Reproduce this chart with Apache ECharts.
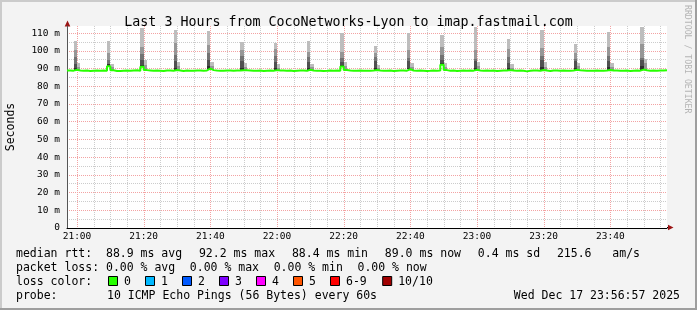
<!DOCTYPE html>
<html><head><meta charset="utf-8">
<script src="https://cdn.jsdelivr.net/npm/echarts@6/dist/echarts.min.js"></script>
<style>html,body{margin:0;padding:0;background:#f3f3f3}#c{width:697px;height:310px}</style>
</head><body><div id="c"></div>
<script>
// ---------------- data ----------------
const titleText = 'Last 3 Hours from CocoNetworks-Lyon to imap.fastmail.com';
const yAxisName = 'Seconds';
const startTime = '20:57';            // first minute column
const majorTicks = ['21:00','21:20','21:40','22:00','22:20','22:40','23:00','23:20','23:40'];
const yTicks = [0,10,20,30,40,50,60,70,80,90,100,110];
const yMax = 114;

// median rtt per minute (ms), 180 columns
const median = [
 88.9,88.8,89.3,88.9,88.7,88.9,88.6,88.8,88.9,88.7,
 88.9,88.8,91.3,89.0,88.6,88.6,88.8,88.9,88.7,88.9,
 89.0,88.8,91.0,89.1,88.9,88.7,88.9,88.8,88.6,88.9,
 88.9,88.8,89.2,88.9,88.6,88.9,88.8,88.7,88.9,88.9,
 88.8,88.9,89.9,89.1,88.9,88.8,88.8,88.9,88.9,88.8,
 88.9,88.9,89.0,89.0,88.9,88.7,88.8,88.9,88.6,88.8,
 88.9,88.8,89.1,88.9,88.9,88.7,88.9,88.6,88.8,88.9,
 88.9,88.7,89.3,88.9,88.8,88.8,88.6,88.7,88.9,88.8,
 88.9,88.8,91.1,89.2,88.9,88.8,88.7,88.9,88.8,88.7,
 88.8,88.9,89.2,88.9,88.8,88.8,88.9,88.6,88.8,88.9,
 88.9,88.8,89.6,88.9,88.7,88.9,88.8,88.6,88.7,88.9,
 88.8,88.9,92.2,89.1,88.8,88.9,88.6,88.8,88.9,88.8,
 88.9,88.8,89.3,88.9,88.7,88.9,88.8,88.9,88.6,88.8,
 88.9,88.9,89.1,88.9,88.7,88.9,88.8,88.4,88.8,88.9,
 88.9,88.7,89.2,88.9,88.6,88.9,88.9,88.8,88.9,88.7,
 88.8,88.9,89.3,89.0,88.9,88.8,88.8,88.7,88.9,88.8,
 88.8,88.9,89.2,88.9,88.9,88.7,88.8,88.9,88.6,88.8,
 88.9,88.8,89.4,89.0,88.8,88.9,88.8,88.9,88.9,89.0
];

// smoke (ping spread) at the periodic spikes: column index and upper pings
const spikeColumns = [2,12,22,32,42,52,62,72,82,92,102,112,122,132,142,152,162,172];
const spikeP10 = [105.6,105.6,112.6,111.7,111.3,105.1,104.5,105.6,110.2,102.6,110.2,108.9,113.2,106.4,112.0,103.8,110.8,113.2];
const spikeP9  = [100.5, 98.5,102.3,104.2,103.2,100.4,100.8, 99.6, 99.6, 98.5,100.4,102.0,100.4,101.0,101.5, 98.5,102.3,104.0];
const spikeP8  = [ 96.6, 95.0, 98.0, 97.6, 98.5, 97.0, 96.8, 96.5, 96.0, 96.5, 96.0, 97.5, 95.4, 96.5, 97.0, 95.4, 97.0, 96.0];
const spikeP7  = [ 92.8, 92.5, 94.8, 94.0, 94.8, 94.0, 93.5, 93.8, 93.8, 94.0, 94.0, 95.0, 94.0, 93.2, 94.8, 94.0, 94.5, 95.0];
const spikeP6  = [ 90.5, 92.5, 92.0, 90.5, 91.5, 90.5, 90.5, 90.5, 92.0, 90.2, 90.5, 93.2, 90.5, 90.5, 91.0, 90.5, 91.0, 91.5];
// the column right after each spike
const afterP10 = [92.9,92.5,94.8,93.8,93.8,93.2,92.5,92.8,93.8,91.9,93.2,93.0,93.8,92.6,93.5,93.2,93.3,95.1];
const afterP9  = [91.0,90.8,92.0,91.5,91.5,91.0,90.5,90.8,91.5,90.3,91.0,91.0,91.5,90.5,91.0,91.2,91.0,93.0];

const smokeColors = ['#2e2e2e','#505050','#737373','#969696','#bdbdbd'];
const lossLabels = ['0','1','2','3','4','5','6-9','10/10'];
const lossColors = ['#26ff00','#00b8ff','#0059ff','#7e00ff','#ff00ff','#ff5500','#ff0000','#a10000'];

const legendRow1 = ['median rtt:  ','88.9 ms avg','92.2 ms max','88.4 ms min','89.0 ms now','0.4 ms sd','215.6   am/s'];
const legendRow2 = ['packet loss: ','0.00 % avg','0.00 % max','0.00 % min','0.00 % now'];
const legendRow3 = 'loss color:';
const legendRow4a = 'probe:';
const legendRow4b = '10 ICMP Echo Pings (56 Bytes) every 60s';
const legendDate = 'Wed Dec 17 23:56:57 2025';
const sideText = 'RRDTOOL / TOBI OETIKER';

// ---------------- build ----------------
const FONT = 'DejaVu Sans Mono';
const CH = 6.92;   // monospace advance at 11.5px
const MAJOR_COL = '#f3a3a3', MINOR_COL = '#cccccc';
const n = median.length;
function toMin(s){const p=s.split(':');return (+p[0])*60+(+p[1]);}
function hhmm(m){const h=Math.floor(m/60)%24, mm=m%60;return String(h).padStart(2,'0')+':'+String(mm).padStart(2,'0');}
const start = toMin(startTime);
const pointLabels = Array.from({length:n+1},(_,i)=>hhmm(start+i));
const colLabels = pointLabels.slice(0,n);
const majorIdx = majorTicks.map(t=>pointLabels.indexOf(t));
const minorIdx = pointLabels.map((t,i)=>i).filter(i=>toMin(pointLabels[i])%5===0 && majorIdx.indexOf(i)<0);

// smoke rows: [column, low, p6, p7, p8, p9, p10]
const smokeRows = [];
spikeColumns.forEach((c,k)=>{
  smokeRows.push([c, median[c], Math.max(median[c],spikeP6[k]), spikeP7[k], spikeP8[k], spikeP9[k], spikeP10[k]]);
  const a = c+1;
  smokeRows.push([a, median[a], median[a], median[a], median[a], afterP9[k], afterP10[k]]);
});
const lineData = median.concat([median[n-1]]);

function gridLineItem(color){
  return function(params, api){
    const cs = params.coordSys;
    const x = Math.round(api.coord([api.value(0), 0])[0]) + 0.5;
    return {type:'line', shape:{x1:x, y1:cs.y, x2:x, y2:cs.y+cs.height},
      style:{stroke:color, lineWidth:1, lineDash:[1,1]}};
  };
}
function smokeItem(params, api){
  const i = api.value(0);
  const c = api.coord([i, 0]);
  const w = api.size([1, 0])[0];
  const xl = Math.round(c[0]-w/2), xr = Math.round(c[0]+w/2);
  const children = [];
  for (let b=0;b<5;b++){
    const lo = Math.round(api.coord([i, api.value(b+1)])[1]);
    const hi = Math.round(api.coord([i, api.value(b+2)])[1]);
    if (lo-hi>0) children.push({type:'rect', shape:{x:xl, y:hi, width:xr-xl, height:lo-hi}, style:{fill:smokeColors[b]}});
  }
  return {type:'group', children:children};
}

const series = [
  {type:'custom', xAxisIndex:0, yAxisIndex:0, data:minorIdx.map(i=>[i,0]), renderItem:gridLineItem(MINOR_COL), silent:true, z:1},
  {type:'custom', xAxisIndex:0, yAxisIndex:0, data:majorIdx.map(i=>[i,0]), renderItem:gridLineItem(MAJOR_COL), silent:true, z:1},
  {type:'custom', xAxisIndex:1, yAxisIndex:0, data:smokeRows, renderItem:smokeItem, silent:true, z:3},
  {type:'line', xAxisIndex:0, yAxisIndex:0, data:lineData, step:'end', symbol:'none',
   lineStyle:{color:lossColors[0], width:2}, silent:true, z:5}
];

const chart = echarts.init(document.getElementById('c'), null, {renderer:'canvas'});
const option = {
  animation:false,
  backgroundColor:'#f3f3f3',
  title:{text:titleText, left:'center', top:11,
    textStyle:{fontFamily:FONT, fontSize:13.3, fontWeight:'normal', color:'#000'}},
  grid:{left:67, top:26, width:600, height:202, show:true, backgroundColor:'#fff', borderWidth:0,
        containLabel:false, outerBoundsMode:'none'},
  xAxis:[
    {type:'category', boundaryGap:false, data:pointLabels,
     axisLine:{show:true, lineStyle:{color:'#000', width:1}}, axisTick:{show:false},
     axisLabel:{interval:(i,v)=>majorTicks.indexOf(v)>=0, fontFamily:FONT, fontSize:9.5, color:'#000', margin:4},
     splitLine:{show:false}},
    {type:'category', boundaryGap:true, data:colLabels, show:false}
  ],
  yAxis:[{
    type:'value', min:0, max:yMax, interval:5,
    name:yAxisName, nameLocation:'middle', nameGap:50, nameRotate:90,
    nameTextStyle:{fontFamily:FONT, fontSize:11.5, color:'#000'},
    axisLine:{show:true, lineStyle:{color:'#555', width:1}}, axisTick:{show:false},
    axisLabel:{fontFamily:FONT, fontSize:9.5, color:'#000', margin:7,
      formatter:v=>yTicks.indexOf(v)<0?'':(v===0?'0':v+' m')},
    splitLine:{show:true, showMinLine:false, showMaxLine:false,
      lineStyle:{color:[MINOR_COL, MAJOR_COL], type:[1,1], width:1}}
  }],
  series:series
};
chart.setOption(option);

// decorations: axis arrows, legend, border
const bl = chart.convertToPixel({xAxisIndex:0, yAxisIndex:0}, [0, 0]);
const tr = chart.convertToPixel({xAxisIndex:0, yAxisIndex:0}, [n, yMax]);
const x0 = Math.round(bl[0])+0.5, y0 = Math.round(bl[1])-0.5;
const x1 = tr[0], y1 = tr[1];
const arrowCol = '#9b1414';
const g = [];
g.push({type:'line', shape:{x1:x0, y1:y1, x2:x0, y2:y1-3}, style:{stroke:'#555', lineWidth:1}, silent:true});
g.push({type:'polygon', shape:{points:[[x0,y1-5.5],[x0-2.8,y1+0.5],[x0+2.8,y1+0.5]]}, style:{fill:arrowCol}, silent:true});
g.push({type:'line', shape:{x1:x1, y1:y0, x2:x1+3, y2:y0}, style:{stroke:'#000', lineWidth:1}, silent:true});
g.push({type:'polygon', shape:{points:[[x1+6.5,y0],[x1+1,y0-2.8],[x1+1,y0+2.8]]}, style:{fill:arrowCol}, silent:true});

const txt = (x,y,s,extra)=>Object.assign({type:'text', x:x, y:y, silent:true,
  style:Object.assign({text:s, fontFamily:FONT, fontSize:11.5, fill:'#000', verticalAlign:'middle', align:'left'}, extra||{})});
function row(items, y, extraGap){
  let x = 16;
  items.forEach((s,i)=>{ g.push(txt(x, y, s)); x += s.length*CH + (i>0 ? CH*2 + extraGap : 0); });
}
row(legendRow1, 254, 3);
row(legendRow2, 268.2, 0.8);
g.push(txt(16, 282.2, legendRow3));
g.push(txt(16, 296.4, legendRow4a));
g.push(txt(107, 296.4, legendRow4b));
g.push(txt(680, 296.4, legendDate, {align:'right'}));
let bx = 108;
lossLabels.forEach((lab,i)=>{
  g.push({type:'rect', shape:{x:bx+0.5, y:276.5, width:9, height:9}, style:{fill:lossColors[i], stroke:'#000', lineWidth:1}, silent:true});
  g.push(txt(bx+16, 282.2, lab));
  bx += 16 + lab.length*7.6 + 13.4;
});
g.push({type:'text', x:687, y:5, rotation:-Math.PI/2, silent:true,
  style:{text:sideText, fontFamily:FONT, fontSize:8.2, fill:'#b4b4b4', align:'left', verticalAlign:'middle'}});
// frame
g.push({type:'rect', shape:{x:0,y:0,width:697,height:2}, style:{fill:'#cbcbcb'}, silent:true});
g.push({type:'rect', shape:{x:0,y:0,width:2,height:310}, style:{fill:'#cbcbcb'}, silent:true});
g.push({type:'rect', shape:{x:0,y:308,width:697,height:2}, style:{fill:'#9e9e9e'}, silent:true});
g.push({type:'rect', shape:{x:695,y:0,width:2,height:310}, style:{fill:'#9e9e9e'}, silent:true});
chart.setOption({graphic:g});
</script></body></html>
